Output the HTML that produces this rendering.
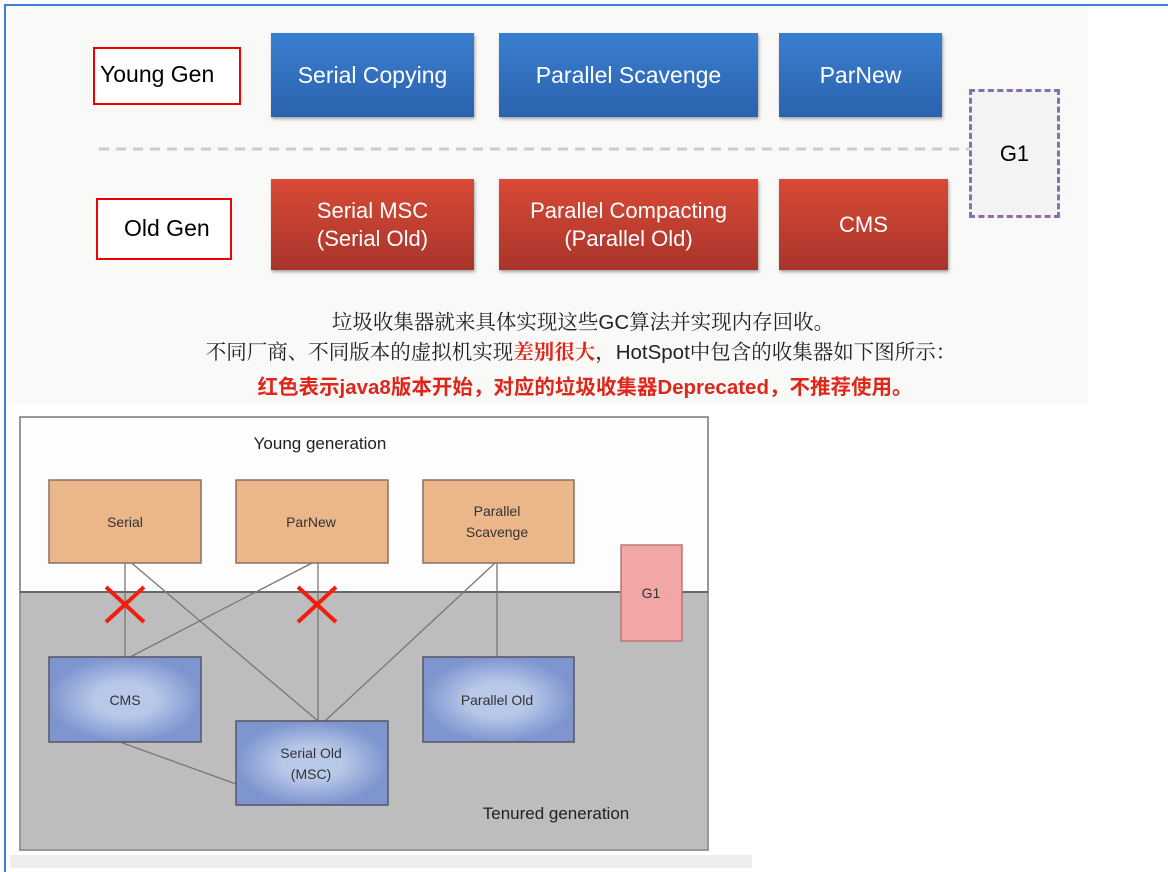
<!DOCTYPE html>
<html><head><meta charset="utf-8"><style>
*{margin:0;padding:0;box-sizing:border-box}
body{width:1168px;height:872px;background:#fff;position:relative;overflow:hidden;font-family:"Liberation Sans","Noto Sans CJK SC",sans-serif}
.a{position:absolute}
.blue{background:linear-gradient(#3a7fd0,#2a62ad);color:#fff;display:flex;align-items:center;justify-content:center;font-size:23px;box-shadow:1px 2px 3px rgba(0,0,0,.35);text-align:center;line-height:28px}
.red{background:linear-gradient(#d94a36,#a8342a);color:#fff;display:flex;align-items:center;justify-content:center;font-size:22px;box-shadow:1px 2px 3px rgba(0,0,0,.35);text-align:center;line-height:28px}
.lbl{border:2px solid #e00;background:#fff;font-size:23px;color:#000}
.t{left:0;width:1166px;text-align:center;font-size:20.5px;white-space:nowrap;font-family:"Liberation Serif","Noto Serif CJK SC",serif;color:#222}
</style></head><body>
<div class="a" style="left:4px;top:4px;width:1164px;height:2px;background:#3b82d6"></div>
<div class="a" style="left:4px;top:4px;width:2px;height:868px;background:#3b82d6"></div>
<div class="a" style="left:6px;top:6px;width:1082px;height:398px;background:#f9f9f8"></div>

<div class="a lbl" style="left:93px;top:47px;width:148px;height:58px;padding:12px 0 0 5px">Young Gen</div>
<div class="a lbl" style="left:96px;top:198px;width:136px;height:62px;padding:15px 0 0 26px">Old Gen</div>

<div class="a blue" style="left:271px;top:33px;width:203px;height:84px">Serial Copying</div>
<div class="a blue" style="left:499px;top:33px;width:259px;height:84px">Parallel Scavenge</div>
<div class="a blue" style="left:779px;top:33px;width:163px;height:84px">ParNew</div>

<svg class="a" style="left:99px;top:147px" width="872" height="4"><line x1="0" y1="2" x2="872" y2="2" stroke="#ccc" stroke-width="3" stroke-dasharray="10,7"/></svg>
<div class="a" style="left:969px;top:89px;width:91px;height:129px;border:3px dashed #8a6fa8;background:#f3f3f3;display:flex;align-items:center;justify-content:center;font-size:22px">G1</div>

<div class="a red" style="left:271px;top:179px;width:203px;height:91px">Serial MSC<br>(Serial Old)</div>
<div class="a red" style="left:499px;top:179px;width:259px;height:91px">Parallel Compacting<br>(Parallel Old)</div>
<div class="a red" style="left:779px;top:179px;width:169px;height:91px">CMS</div>

<div class="a t" style="top:305px">垃圾收集器就来具体实现这些<span style="font-family:'Liberation Sans'">GC</span>算法并实现内存回收。</div>
<div class="a t" style="top:335px;left:-2px">不同厂商、不同版本的虚拟机实现<span style="color:#e0261a;font-weight:bold">差别很大</span>，<span style="font-family:'Liberation Sans'">HotSpot</span>中包含的收集器如下图所示：</div>
<div class="a t" style="top:370px;font-size:20.5px;color:#e0261a;font-weight:bold;font-family:'Liberation Sans','Noto Sans CJK SC',sans-serif;left:2px">红色表示java8版本开始，对应的垃圾收集器Deprecated，不推荐使用。</div>

<svg class="a" style="left:0;top:0" width="1168" height="872">
<rect x="20" y="417" width="688" height="433" fill="#fdfdfd" stroke="#777" stroke-width="1.5"/>
<rect x="21" y="592" width="686" height="257" fill="#bdbdbd"/>
<line x1="20" y1="592" x2="708" y2="592" stroke="#666" stroke-width="2"/>
<text x="320" y="449" font-size="17" text-anchor="middle" font-family="Liberation Sans" fill="#222">Young generation</text>
<text x="556" y="819" font-size="17" text-anchor="middle" font-family="Liberation Sans" fill="#222">Tenured generation</text>
<g stroke="#777" stroke-width="1.3">
<line x1="125" y1="563" x2="125" y2="657"/>
<line x1="128" y1="560" x2="318" y2="721"/>
<line x1="312" y1="563" x2="130" y2="657"/>
<line x1="318" y1="563" x2="318" y2="721"/>
<line x1="495" y1="563" x2="325" y2="721"/>
<line x1="497" y1="563" x2="497" y2="657"/>
<line x1="120" y1="742" x2="236" y2="784"/>
</g>
<defs><radialGradient id="b"><stop offset="0.4" stop-color="#b8c8e8"/><stop offset="1" stop-color="#7e95cf"/></radialGradient></defs>
<g stroke="#8a7060" stroke-width="1.5" fill="#ebb68a">
<rect x="49" y="480" width="152" height="83"/><rect x="236" y="480" width="152" height="83"/><rect x="423" y="480" width="151" height="83"/>
</g>
<rect x="621" y="545" width="61" height="96" fill="#f2a6a6" stroke="#b77" stroke-width="1.5"/>
<g stroke="#556" stroke-width="1.5" fill="url(#b)">
<rect x="49" y="657" width="152" height="85"/><rect x="423" y="657" width="151" height="85"/><rect x="236" y="721" width="152" height="84"/>
</g>
<g font-family="Liberation Sans" font-size="14" fill="#333" text-anchor="middle">
<text x="125" y="527">Serial</text><text x="311" y="527">ParNew</text>
<text x="497" y="516">Parallel</text><text x="497" y="537">Scavenge</text>
<text x="651" y="598">G1</text>
<text x="125" y="705">CMS</text><text x="497" y="705">Parallel Old</text>
<text x="311" y="758">Serial Old</text><text x="311" y="779">(MSC)</text>
</g>
<g stroke="#f01e0a" stroke-width="4">
<line x1="106" y1="587" x2="144" y2="622"/><line x1="144" y1="587" x2="106" y2="622"/>
<line x1="298" y1="587" x2="336" y2="622"/><line x1="336" y1="587" x2="298" y2="622"/>
</g>
<rect x="10" y="855" width="742" height="13" fill="#eeeeee"/>
</svg>
</body></html>
